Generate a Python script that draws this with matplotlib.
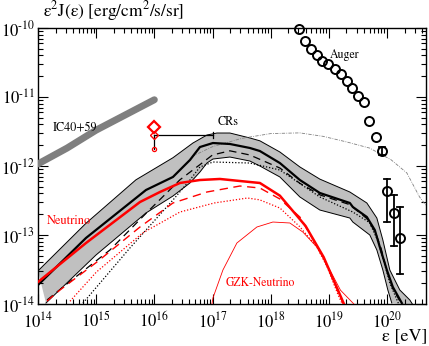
import numpy as np
import matplotlib
matplotlib.use('Agg')
import matplotlib.pyplot as plt
from matplotlib.ticker import LogLocator, NullFormatter, FuncFormatter

plt.rcParams['font.family'] = ['STIXGeneral', 'Liberation Serif', 'DejaVu Serif']
plt.rcParams['mathtext.fontset'] = 'stix'

# ---------------- data (log10 E [eV], log10 E^2 J [erg/cm2/s/sr]) ----------------
ic_logE = [14.0, 14.5, 15.0, 15.5, 16.0]
ic_logF = [-11.97, -11.74, -11.48, -11.26, -11.04]

band_up_logE = [14.00, 14.825, 15.684, 16.32, 16.663, 16.904, 17.076, 17.299, 17.643, 17.814,
                18.158, 18.502, 18.845, 19.361, 19.653, 19.825, 19.928, 20.048, 20.22, 20.392, 20.45]
band_up_logF = [-13.52, -12.83, -12.20, -11.88, -11.667, -11.551, -11.522, -11.522, -11.594, -11.635,
                -11.797, -12.014, -12.19, -12.377, -12.536, -12.754, -13.072, -13.507, -13.797, -13.942, -14.02]

band_lo_logE = [14.137, 14.997, 15.856, 16.32, 16.612, 16.784, 16.904, 17.007, 17.299, 17.643, 17.814,
                18.158, 18.502, 18.845, 19.361, 19.412, 19.704, 19.825, 19.928, 20.014, 20.082]
band_lo_logF = [-13.986, -13.29, -12.681, -12.435, -12.246, -12.087, -11.957, -11.899, -11.87, -11.928, -12.0,
                -12.159, -12.449, -12.638, -12.754, -12.812, -13.0, -13.217, -13.507, -13.797, -13.986]

cr_logE = [14.0, 14.825, 15.856, 16.32, 16.612, 16.784, 17.007, 17.299, 17.643, 17.814,
           18.158, 18.502, 18.845, 19.361, 19.412, 19.653, 19.79, 19.876, 19.997, 20.1, 20.254]
cr_logF = [-13.725, -13.043, -12.348, -12.159, -11.913, -11.725, -11.667, -11.681, -11.739, -11.783,
           -11.957, -12.203, -12.391, -12.536, -12.594, -12.739, -12.928, -13.174, -13.507, -13.754, -13.986]

crdash_logE = [14.155, 14.48, 15.237, 15.9, 16.44, 16.784, 17.0, 17.3, 17.64, 18.16, 18.5, 18.85,
               19.36, 19.65, 19.8, 19.9, 20.0, 20.1, 20.25]
crdash_logF = [-13.942, -13.72, -13.217, -12.65, -12.2, -11.98, -11.84, -11.78, -11.84, -12.03, -12.25, -12.42,
               -12.56, -12.76, -12.96, -13.2, -13.53, -13.78, -14.0]

crdot_logE = [14.773, 15.58, 16.32, 16.612, 16.784, 17.007, 17.643, 18.158, 18.845, 19.412,
              19.7, 19.85, 19.95, 20.05, 20.2]
crdot_logF = [-13.986, -13.188, -12.493, -12.203, -12.014, -11.942, -11.957, -12.058, -12.449, -12.667,
              -12.82, -13.1, -13.4, -13.7, -14.0]

nu_logE = [14.0, 14.825, 15.753, 16.096, 16.44, 16.784, 17.127, 17.643, 17.814, 18.158, 18.5, 18.6, 18.91, 19.26]
nu_logF = [-13.681, -13.116, -12.522, -12.377, -12.246, -12.203, -12.188, -12.232, -12.246, -12.43, -12.77,
           -12.87, -13.32, -14.0]

nudash_logE = [14.155, 14.378, 15.014, 15.753, 16.32, 16.904, 17.471, 17.814, 18.158, 18.502, 18.6, 18.91, 19.25]
nudash_logF = [-13.957, -13.797, -13.391, -12.884, -12.536, -12.377, -12.29, -12.319, -12.478, -12.74,
               -12.88, -13.33, -14.0]

nudot_logE = [14.55, 15.0, 15.8, 16.44, 17.03, 17.6, 17.81, 18.16, 18.5, 18.79, 18.97, 19.16, 19.23]
nudot_logF = [-13.96, -13.54, -12.97, -12.667, -12.536, -12.464, -12.49, -12.61, -12.88, -13.17, -13.46,
              -13.87, -14.0]

gzk_logE = [16.99, 17.007, 17.179, 17.419, 17.763, 18.038, 18.33, 18.553, 18.794, 19.017, 19.2, 19.43]
gzk_logF = [-14.0, -13.913, -13.507, -13.116, -12.884, -12.812, -12.826, -12.957, -13.174, -13.507, -13.8, -14.0]

gray_logE = [16.65, 17.0, 17.5, 18.0, 18.5, 18.9, 19.3, 19.7, 20.07, 20.34, 20.56, 20.67]
gray_logF = [-11.86, -11.72, -11.60, -11.53, -11.52, -11.57, -11.65, -11.74, -11.91, -12.10, -12.45, -12.57]

auger_logE = [18.485, 18.588, 18.691, 18.794, 18.880, 18.983, 19.103, 19.206, 19.309, 19.395,
              19.498, 19.601, 19.687, 19.808, 19.911, 19.997, 20.117, 20.220]
auger_logF = [-10.014, -10.188, -10.304, -10.391, -10.478, -10.522, -10.594, -10.667, -10.768, -10.870,
              -10.986, -11.072, -11.348, -11.580, -11.783, -12.362, -12.681, -13.043]
auger_err_idx = [14, 15, 16, 17]
auger_err_lo = [-11.84, -12.812, -13.16, -13.565]
auger_err_hi = [-11.73, -12.188, -12.42, -12.594]

ice_logE = 16.0
ice_logE_hi = 17.0
ice_logF = [-11.435, -11.551, -11.754]

# ---------------- figure ----------------
W, H = 429, 346
fig = plt.figure(figsize=(W / 100, H / 100), dpi=100)
ax = fig.add_axes([38 / W, 42 / H, 388 / W, 276 / H])
ax.set_xscale('log')
ax.set_yscale('log')

p = lambda a: 10.0 ** np.asarray(a)

# band
poly_x = np.concatenate([p(band_up_logE), p(band_lo_logE)[::-1]])
poly_y = np.concatenate([p(band_up_logF), p(band_lo_logF)[::-1]])
ax.fill(poly_x, poly_y, color='#c0c0c0', lw=0, zorder=1)
ax.plot(p(band_up_logE), p(band_up_logF), color='black', lw=0.7, zorder=2)
ax.plot(p(band_lo_logE), p(band_lo_logF), color='black', lw=0.7, zorder=2)

ax.plot(p(cr_logE), p(cr_logF), color='black', lw=1.6, zorder=4)
ax.plot(p(crdash_logE), p(crdash_logF), color='black', lw=0.9, dashes=(6, 4), zorder=3)
ax.plot(p(crdot_logE), p(crdot_logF), color='black', lw=0.9, dashes=(1, 1.5), zorder=3)

ax.plot(p(nu_logE), p(nu_logF), color='red', lw=1.8, zorder=5)
ax.plot(p(nudash_logE), p(nudash_logF), color='red', lw=1.0, dashes=(6, 4), zorder=5)
ax.plot(p(nudot_logE), p(nudot_logF), color='red', lw=0.9, dashes=(1, 1.5), zorder=5)
ax.plot(p(gzk_logE), p(gzk_logF), color='red', lw=0.6, zorder=5)

ax.plot(p(gray_logE), p(gray_logF), color='#808080', lw=0.6, dashes=(4, 1.5, 1, 1.5), zorder=3)

ax.plot(p(ic_logE), p(ic_logF), color='#7f7f7f', lw=5, solid_capstyle='round', zorder=6)

# point with horizontal range
ax.plot([p(ice_logE), p(ice_logE_hi)], [p(ice_logF[1])] * 2, color='black', lw=0.9, zorder=6)
ax.plot([p(ice_logE_hi)] * 2, [p(ice_logF[1] - 0.04), p(ice_logF[1] + 0.04)], color='black', lw=0.9, zorder=6)
ax.plot([p(ice_logE)] * 2, [p(ice_logF[1]), p(ice_logF[2])], color='black', lw=0.9, zorder=6)
ax.plot([p(ice_logE)], [p(ice_logF[0])], marker='D', ms=6, mfc='none', mec='red', mew=1.6, zorder=7)
ax.plot([p(ice_logE)], [p(ice_logF[1])], marker='D', ms=4.5, mfc='none', mec='red', mew=1.0, zorder=7)
ax.plot([p(ice_logE)], [p(ice_logF[2])], marker='o', ms=3, mfc='none', mec='red', mew=0.9, zorder=7)

# Auger
ax.plot(p(auger_logE), p(auger_logF), ls='none', marker='o', ms=6.5, mfc='none', mec='black', mew=1.4,
        zorder=8, clip_on=False)
for i, lo, hi in zip(auger_err_idx, auger_err_lo, auger_err_hi):
    xe = p(auger_logE[i])
    ax.plot([xe, xe], [p(lo), p(hi)], color='black', lw=1.3, zorder=8)
    for yv in (lo, hi):
        ax.plot([xe / 10 ** 0.055, xe * 10 ** 0.055], [p(yv)] * 2, color='black', lw=1.3, zorder=8)

ax.set_xlim(1e14, 10 ** 20.67)
ax.set_ylim(1e-14, 1e-10)


def fmt(v, pos):
    e = int(round(np.log10(v)))
    s = str(e).replace('-', '\u2010')
    return '10$^{' + s + '}$'


ax.xaxis.set_major_locator(LogLocator(base=10, numticks=20))
ax.yaxis.set_major_locator(LogLocator(base=10, numticks=20))
ax.xaxis.set_minor_locator(LogLocator(base=10, subs=np.arange(2, 10), numticks=20))
ax.yaxis.set_minor_locator(LogLocator(base=10, subs=np.arange(2, 10), numticks=20))
ax.xaxis.set_major_formatter(FuncFormatter(fmt))
ax.yaxis.set_major_formatter(FuncFormatter(fmt))
ax.xaxis.set_minor_formatter(NullFormatter())
ax.yaxis.set_minor_formatter(NullFormatter())
ax.tick_params(which='both', direction='in', top=True, right=True, width=0.8, labelsize=12)
ax.tick_params(which='major', length=7)
ax.tick_params(which='minor', length=3.5)
ax.tick_params(axis='y', pad=2)
ax.tick_params(axis='x', pad=5)
for s in ax.spines.values():
    s.set_linewidth(1.0)

# labels
ax.text(p(14.258), p(-11.449), 'IC40+59', fontsize=8.7, ha='left', va='center', zorder=9)
ax.text(p(17.265), p(-11.362), 'CRs', fontsize=8.7, ha='center', va='center', zorder=9)
ax.text(p(19.275), p(-10.39), 'Auger', fontsize=8.5, ha='center', va='center', zorder=9)
ax.text(p(14.533), p(-12.797), 'Neutrino', fontsize=8.9, ha='center', va='center', color='red', zorder=9)
ax.text(p(17.83), p(-13.696), 'GZK-Neutrino', fontsize=8.4, ha='center', va='center', color='red', zorder=9)

fig.text(43 / W, 1 - 11 / H, 'ε$^2$J(ε) [erg/cm$^2$/s/sr]', fontsize=12.5, ha='left', va='center')
fig.text(427 / W, 1 - 336 / H, 'ε [eV]', fontsize=13, ha='right', va='center')

fig.savefig('out.png', dpi=100)
